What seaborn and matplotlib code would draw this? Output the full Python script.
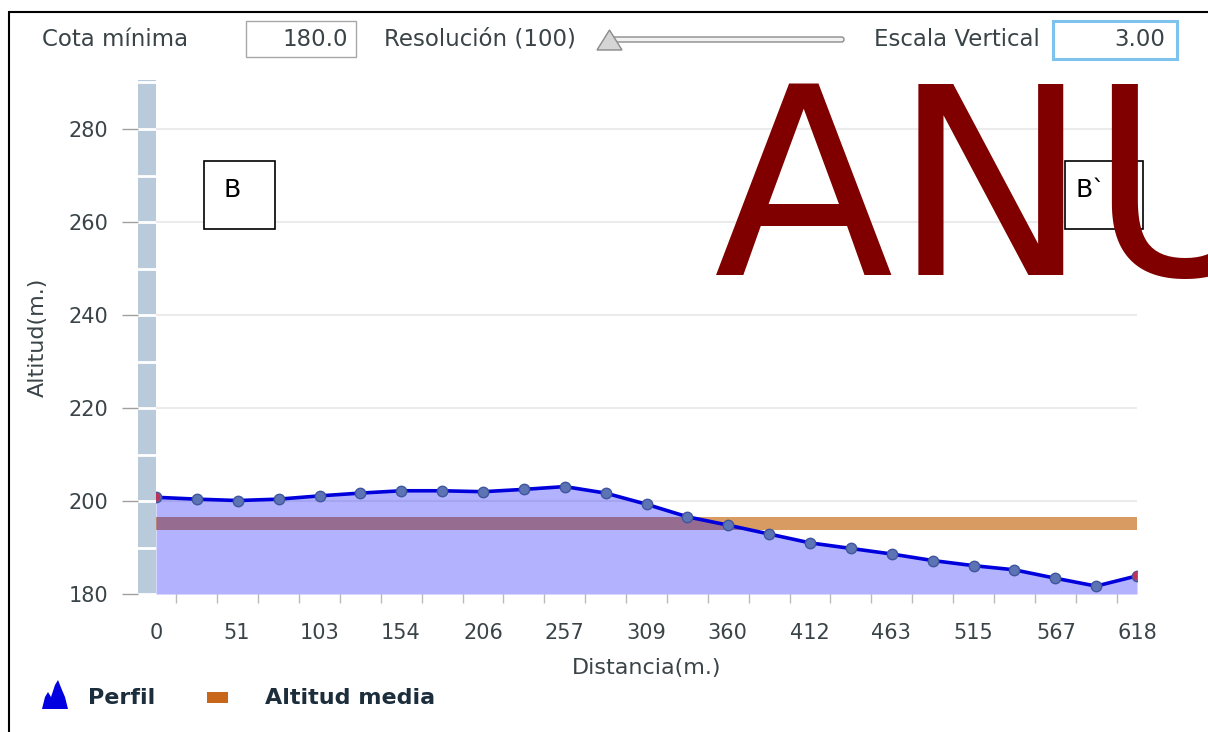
#Perfil topografico B - B` : altitud vs distancia, con la altitud media.
import numpy as np
import matplotlib
matplotlib.use('Agg')
import matplotlib.pyplot as plt
import seaborn as sns
from matplotlib.patches import Rectangle, Polygon, FancyBboxPatch

dist_m = [0, 25.75, 51.5, 77.25, 103, 128.75, 154.5, 180.25, 206, 231.75,
          257.5, 283.25, 309, 334.75, 360.5, 386.25, 412, 437.75, 463.5,
          489.25, 515, 540.75, 566.5, 592.25, 618]
altitud_m = [200.8, 200.4, 200.1, 200.4, 201.1, 201.7, 202.2, 202.2, 202.0,
             202.5, 203.1, 201.7, 199.3, 196.6, 194.8, 192.9, 191.0, 189.8,
             188.6, 187.2, 186.1, 185.2, 183.4, 181.7, 183.9]
xtick_vals = [0, 51, 103, 154, 206, 257, 309, 360, 412, 463, 515, 567, 618]
ytick_vals = [180, 200, 220, 240, 260, 280]
cota_minima = 180.0
resolucion = 100
escala_vertical = 3.00
altitud_media = np.mean(altitud_m)  #~195.2, la banda naranja

sns.set_theme(style='white')
plt.rcParams['font.family'] = ['DejaVu Sans']

W, H = 1208, 732
TXT = '#3a4448'


def px_box(l, t, r, b):
    #pixel box (desde arriba) -> rect de figura
    return [l / W, 1 - b / H, (r - l) / W, (b - t) / H]


fig = plt.figure(figsize=(W / 100, H / 100), dpi=100)
fig.patch.set_facecolor('white')
ymax = 180 + 514 / 4.65

#Grafico principal
ax = fig.add_axes(px_box(156, 80, 1137, 594))
ax.set_xlim(0, 618)
ax.set_ylim(180, ymax)
ax.axhspan(altitud_media - 1.4, altitud_media + 1.4, color='#D89C62', lw=0, zorder=1)
ax.fill_between(dist_m, altitud_m, 180, color='#0000FF', alpha=0.3, lw=0, zorder=2)
sns.lineplot(x=dist_m, y=altitud_m, ax=ax, color='#0000DC', lw=2.6, marker='o',
             markersize=7.5, markerfacecolor='#5D74B4', markeredgecolor='#3F559C',
             markeredgewidth=1, zorder=3)
sns.scatterplot(x=[dist_m[0], dist_m[-1]], y=[altitud_m[0], altitud_m[-1]], ax=ax,
                color='#B8345A', s=40, edgecolor='none', zorder=4)

ax.set_yticks(ytick_vals[1:])
ax.grid(axis='y', color='#EBEBEB', lw=1.5)
ax.set_axisbelow(True)
ax.tick_params(axis='y', length=0, labelleft=False)
ax.set_xticks(xtick_vals, [str(v) for v in xtick_vals])
mids = (np.array(dist_m[:-1]) + np.array(dist_m[1:])) / 2
ax.set_xticks(mids, minor=True)
ax.tick_params(axis='x', which='major', bottom=True, length=0, pad=21,
               labelsize=15, labelcolor=TXT)
ax.tick_params(axis='x', which='minor', bottom=True, length=6.5, width=1,
               color='#BBBBBB', direction='out')
for s in ax.spines.values():
    s.set_visible(False)
ax.set_xlabel('Distancia(m.)', fontsize=16, color=TXT)
ax.xaxis.set_label_coords(0.5, (594 - 658) / 514)
ax.set_ylabel('Altitud(m.)', fontsize=16, color=TXT)
ax.yaxis.set_label_coords((48 - 156) / 981, 0.5)

#Barra gris del eje Y
bar = fig.add_axes(px_box(138, 80, 156, 594))
bar.set_facecolor('#B9CADB')
bar.set_xlim(0, 1)
bar.set_ylim(180, ymax)
bar.set_xticks([])
bar.set_yticks(ytick_vals, [str(v) for v in ytick_vals])
bar.set_yticks(np.arange(190, 291, 10), minor=True)
bar.grid(which='both', axis='y', color='white', lw=2)
bar.tick_params(axis='y', which='major', left=True, length=11.5, width=1,
                color='#A0A0A0', pad=10, labelsize=15, labelcolor=TXT)
bar.tick_params(axis='y', which='minor', length=0)
for s in bar.spines.values():
    s.set_visible(False)

#Capa superior: controles, leyenda, cajas y texto
ov = fig.add_axes([0, 0, 1, 1], zorder=10)
ov.set_xlim(0, W)
ov.set_ylim(H, 0)
ov.axis('off')
ov.patch.set_alpha(0)

ov.plot([9, 9, W], [H, 12, 12], color='black', lw=1.5, solid_joinstyle='miter')

ov.text(42, 46, 'Cota mínima', fontsize=16.5, color=TXT, va='baseline')
ov.add_patch(Rectangle((246, 21), 110, 36, fc='white', ec='#A8A8A8', lw=1))
ov.text(348, 46, f'{cota_minima:.1f}', fontsize=16.5, color=TXT, va='baseline', ha='right')
ov.text(384, 46, f'Resolución ({resolucion})', fontsize=16.5, color=TXT, va='baseline')
ov.add_patch(FancyBboxPatch((606, 37), 238, 5, boxstyle='round,pad=0,rounding_size=2.5',
                            fc='#F2F2F2', ec='#8C8C8C', lw=1))
ov.add_patch(Polygon([(597, 50), (609.5, 30), (622, 50)], closed=True,
                     fc='#D5D5D5', ec='#8A8A8A', lw=1))
ov.text(874, 46, 'Escala Vertical', fontsize=16.5, color=TXT, va='baseline')
ov.add_patch(Rectangle((1053, 21), 124, 38, fc='white', ec='#7DC3EE', lw=2.2))
ov.text(1165, 46, f'{escala_vertical:.2f}', fontsize=16.5, color=TXT, va='baseline',
        ha='right')

#Leyenda
ov.add_patch(Polygon([(42, 709), (45, 697), (48, 692), (51, 697), (55, 685), (58, 680),
                      (62, 690), (65, 697), (68, 709)], closed=True, fc='#0000E0', lw=0))
ov.text(88, 704, 'Perfil', fontsize=16, fontweight='bold', color='#1c2e3c', va='baseline')
ov.add_patch(Rectangle((207, 692), 21, 11, fc='#C8661A', lw=0))
ov.text(265, 704, 'Altitud media', fontsize=16, fontweight='bold', color='#1c2e3c',
        va='baseline')

#Cajas B y B`
ov.add_patch(Rectangle((204, 161), 71, 68, fc='white', ec='black', lw=1.2, zorder=1))
ov.text(223.5, 197, 'B', fontsize=18, color='black', va='baseline', zorder=2)
ov.add_patch(Rectangle((1065, 161), 78, 68, fc='white', ec='black', lw=1.2, zorder=1))
ov.text(1076, 197, 'B`', fontsize=18, color='black', va='baseline', zorder=2)

ov.text(714, 275, 'ANU', fontsize=189, color='#800000', va='baseline', ha='left', zorder=3)

fig.savefig('out.png', dpi=100)
